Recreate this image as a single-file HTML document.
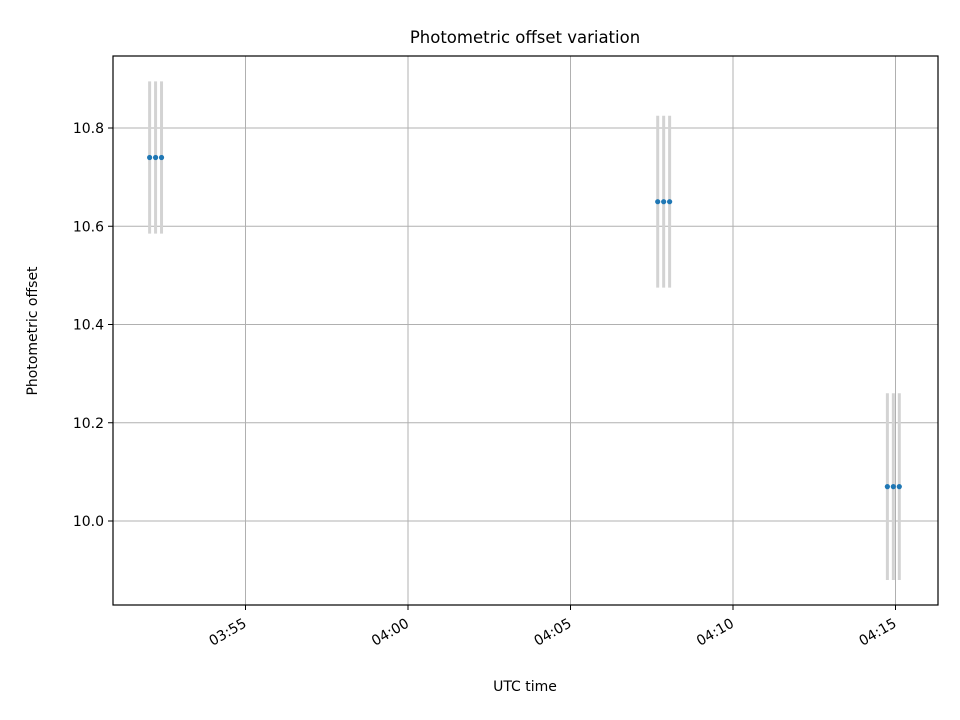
<!DOCTYPE html>
<html><head><meta charset="utf-8"><style>
html,body{margin:0;padding:0;background:#fff;}
svg{display:block;font-family:"DejaVu Sans","Liberation Sans",sans-serif;}
</style></head><body>
<svg id="chart" width="960" height="720" viewBox="0 0 960 720">
<rect x="0" y="0" width="960" height="720" fill="#fff"/>
<text x="525" y="43" font-size="16.5" text-anchor="middle">Photometric offset variation</text>
<g id="grid"></g>
<g id="errs"></g>
<g id="pts"></g>
<rect x="113" y="56" width="825" height="549" fill="none" stroke="#000" stroke-width="1.2"/>
<g id="ticks"></g>
<text x="525" y="691" font-size="14" text-anchor="middle">UTC time</text>
<text transform="translate(37,331) rotate(-90)" font-size="14" text-anchor="middle">Photometric offset</text>
</svg>
<script>
// times in seconds since 04:00:00 UTC
const times = [-477, -466, -455, 461, 472, 483, 885, 896, 907];
const values = [10.74, 10.74, 10.74, 10.65, 10.65, 10.65, 10.07, 10.07, 10.07];
const errors = [0.155, 0.155, 0.155, 0.175, 0.175, 0.175, 0.19, 0.19, 0.19];
const yTicks = [10.0, 10.2, 10.4, 10.6, 10.8];
const xTickSecs = [-300, 0, 300, 600, 900];
const xTickLabels = ["03:55", "04:00", "04:05", "04:10", "04:15"];

const NS = "http://www.w3.org/2000/svg";
function xs(s){ return 408 + s * (162.5 / 300); }
function ys(v){ return 521 - (v - 10.0) * (98.25 / 0.2); }
function mk(tag, attrs, parent){
  const e = document.createElementNS(NS, tag);
  for (const k in attrs) e.setAttribute(k, attrs[k]);
  document.getElementById(parent).appendChild(e);
  return e;
}
xTickSecs.forEach((s, i) => {
  const x = xs(s);
  const g = mk("line", {x1:x, x2:x, y1:56, y2:605, stroke:"#b0b0b0", "stroke-width":1}, "grid");
  
  
  const t = mk("line", {x1:x, x2:x, y1:605, y2:610, stroke:"#000", "stroke-width":1}, "ticks");
  
  
  const ax = x + 2, ay = 626;
  const l = mk("text", {x:ax, y:ay, "font-size":14, "text-anchor":"end", transform:"rotate(-30," + ax + "," + ay + ")"}, "ticks");
  l.textContent = xTickLabels[i];
  
  
});
yTicks.forEach(v => {
  const y = ys(v);
  const g = mk("line", {x1:113, x2:938, y1:y, y2:y, stroke:"#b0b0b0", "stroke-width":1}, "grid");
  
  
  const t = mk("line", {x1:108, x2:113, y1:y, y2:y, stroke:"#000", "stroke-width":1}, "ticks");
  
  
  const l = mk("text", {x:104, y:y+5, "font-size":14, "text-anchor":"end"}, "ticks");
  l.textContent = v.toFixed(1);
  
  
});
times.forEach((s, i) => {
  const x = xs(s);
  const e = mk("line", {x1:x, x2:x, y1:ys(values[i]+errors[i]), y2:ys(values[i]-errors[i]), stroke:"#d3d3d3", "stroke-width":3}, "errs");
  
  
  const p = mk("circle", {cx:x, cy:ys(values[i]), r:2.6, fill:"#1f77b4"}, "pts");
  
  
});
</script>
</body></html>
